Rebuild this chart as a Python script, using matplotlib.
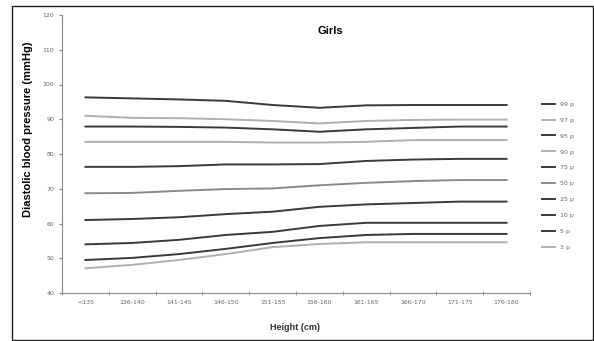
import matplotlib
matplotlib.use("Agg")
import matplotlib.pyplot as plt
from matplotlib.patches import Rectangle

heights = ["<135", "136-140", "141-145", "146-150", "151-155",
           "156-160", "161-165", "166-170", "171-175", "176-180"]

p99 = [96.3, 96.0, 95.7, 95.3, 94.1, 93.3, 94.0, 94.1, 94.1, 94.1]
p97 = [91.0, 90.4, 90.3, 90.0, 89.5, 88.8, 89.5, 89.8, 89.9, 89.9]
p95 = [87.9, 87.9, 87.8, 87.6, 87.1, 86.4, 87.1, 87.5, 87.9, 87.9]
p90 = [83.5, 83.5, 83.5, 83.5, 83.3, 83.3, 83.5, 84.0, 84.0, 84.0]
p75 = [76.3, 76.3, 76.5, 77.0, 77.0, 77.1, 78.0, 78.4, 78.6, 78.6]
p50 = [68.7, 68.8, 69.4, 69.9, 70.1, 71.0, 71.7, 72.2, 72.5, 72.5]
p25 = [61.0, 61.3, 61.8, 62.7, 63.4, 64.8, 65.5, 65.9, 66.3, 66.3]
p10 = [54.0, 54.4, 55.3, 56.7, 57.6, 59.3, 60.2, 60.2, 60.2, 60.2]
p5 = [49.5, 50.1, 51.2, 52.7, 54.4, 55.8, 56.7, 57.0, 57.0, 57.0]
p3 = [47.1, 48.1, 49.5, 51.2, 53.2, 54.1, 54.6, 54.6, 54.6, 54.6]

series = [p99, p97, p95, p90, p75, p50, p25, p10, p5, p3]
labels = ["99 p", "97 p", "95 p", "90 p", "75 p", "50 p", "25 p", "10 p", "5 p", "3 p"]
colors = ["#3a3a3a", "#b0b0b0", "#3a3a3a", "#b0b0b0", "#3a3a3a",
          "#8a8a8a", "#3a3a3a", "#3a3a3a", "#3a3a3a", "#b0b0b0"]

fig = plt.figure(figsize=(5.94, 3.41), dpi=100)
ax = fig.add_axes([62/594, 1-293/341, (530-62)/594, (293-15)/341])

x = list(range(len(heights)))
for s, lab, c in zip(series, labels, colors):
    ax.plot(x, s, color=c, lw=1.4, label=lab)

ax.set_xlim(-0.5, 9.5)
ax.set_ylim(40, 120)
ax.set_yticks(range(40, 121, 10))
ax.set_xticks(x)
ax.set_xticklabels(heights, fontsize=4.5, color="#666666")
ax.set_xticks([i + 0.5 for i in range(-1, 10)], minor=True)
ax.tick_params(axis="x", which="major", length=0, pad=5)
ax.tick_params(axis="x", which="minor", length=3, color="#888888", direction="inout")
ax.tick_params(axis="y", labelsize=4.5, labelcolor="#666666", length=2, color="#888888")

for side in ["top", "right"]:
    ax.spines[side].set_visible(False)
ax.spines["left"].set_color("#888888")
ax.spines["bottom"].set_color("#888888")

ax.legend(loc="upper left", bbox_to_anchor=(1.018, 0.70), frameon=False,
          fontsize=4.5, handlelength=2.2, labelspacing=1.68, borderpad=0,
          labelcolor="#666666")

fig.text(330/594, 1-31/341, "Girls", ha="center", va="center",
         fontsize=8, fontweight="bold", family="Liberation Sans")
fig.text(28/594, 1-129/341, "Diastolic blood pressure (mmHg)", rotation=90,
         ha="center", va="center", fontsize=8, fontweight="bold", family="Liberation Sans")
fig.text(295/594, 1-328/341, "Height (cm)", ha="center", va="center",
         fontsize=6.5, fontweight="bold", family="Liberation Sans", color="#333333")

fig.patches.append(Rectangle((11.7/594, 1-340/341), (592.7-11.7)/594, (340-6)/341,
                             transform=fig.transFigure, fill=False,
                             edgecolor="#222222", lw=1))

fig.savefig("out.png", dpi=100)
